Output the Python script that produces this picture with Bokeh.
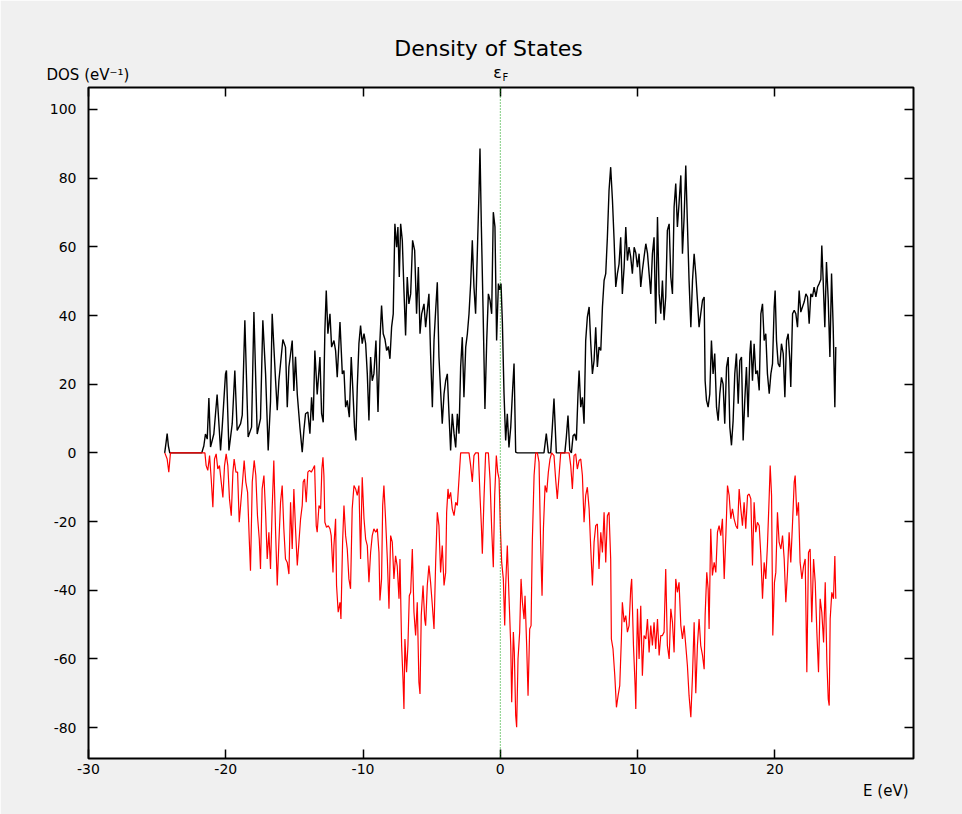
from bokeh.plotting import figure
from bokeh.models import (Range1d, LinearAxis, FixedTicker, Span, Label,
                          CustomLabelingPolicy)
from bokeh.embed import file_html
from bokeh.resources import INLINE

# ---- spin-up DOS (plotted positive) ----
E_up = [
    -24.45, -24.35, -24.27, -24.18, -24.08, -21.75, -21.60, -21.48, -21.35, -21.23,
    -21.11, -20.87, -20.63, -20.38, -20.26, -20.02, -19.95, -19.77, -19.53, -19.34,
    -19.17, -18.92, -18.80, -18.61, -18.37, -18.12, -17.95, -17.71, -17.47, -17.30,
    -17.10, -16.91, -16.74, -16.62, -16.37, -16.25, -16.13, -15.84, -15.65, -15.52,
    -15.40, -15.28, -15.16, -15.04, -14.92, -14.79, -14.60, -14.43, -14.31, -14.19,
    -14.02, -13.87, -13.75, -13.63, -13.51, -13.34, -13.14, -13.02, -12.90, -12.78,
    -12.68, -12.56, -12.41, -12.29, -12.12, -12.00, -11.88, -11.68, -11.51, -11.39,
    -11.27, -11.15, -11.00, -10.86, -10.74, -10.62, -10.52, -10.42, -10.30, -10.18,
    -10.06, -9.93, -9.81, -9.69, -9.57, -9.45, -9.33, -9.21, -9.06, -8.91,
    -8.77, -8.65, -8.53, -8.40, -8.28, -8.16, -8.04, -7.92, -7.80, -7.68,
    -7.55, -7.46, -7.36, -7.26, -7.14, -7.02, -6.90, -6.78, -6.66, -6.53,
    -6.39, -6.24, -6.10, -5.97, -5.85, -5.73, -5.56, -5.44, -5.32, -5.20,
    -5.08, -4.95, -4.83, -4.71, -4.59, -4.47, -4.35, -4.23, -4.10, -3.98,
    -3.86, -3.74, -3.62, -3.50, -3.37, -3.25, -3.13, -3.01, -2.89, -2.77,
    -2.65, -2.52, -2.40, -2.28, -2.16, -2.04, -1.92, -1.80, -1.67, -1.55,
    -1.48, -1.38, -1.26, -1.12, -0.99, -0.87, -0.75, -0.63, -0.51, -0.39,
    -0.27, -0.14, -0.05, 0.05, 0.15, 0.27, 0.39, 0.51, 0.63, 0.76,
    0.88, 1.00, 1.12, 1.24, 3.18, 3.35, 3.50, 3.67, 3.79, 3.91,
    4.08, 4.70, 4.81, 4.93, 5.06, 5.18, 5.30, 5.42, 5.54, 5.66,
    5.74, 5.86, 5.98, 6.10, 6.22, 6.34, 6.47, 6.59, 6.71, 6.83,
    6.95, 7.07, 7.19, 7.32, 7.44, 7.56, 7.68, 7.80, 7.92, 8.04,
    8.17, 8.29, 8.41, 8.53, 8.65, 8.77, 8.89, 9.02, 9.14, 9.26,
    9.38, 9.50, 9.62, 9.75, 9.87, 9.99, 10.11, 10.23, 10.35, 10.47,
    10.60, 10.72, 10.84, 10.96, 11.08, 11.20, 11.32, 11.45, 11.57, 11.69,
    11.81, 11.93, 12.05, 12.17, 12.30, 12.42, 12.54, 12.66, 12.78, 12.90,
    13.02, 13.15, 13.27, 13.39, 13.51, 13.63, 13.75, 13.88, 14.00, 14.12,
    14.24, 14.36, 14.48, 14.60, 14.73, 14.85, 14.92, 15.02, 15.14, 15.26,
    15.38, 15.50, 15.62, 15.75, 15.87, 15.99, 16.11, 16.23, 16.35, 16.48,
    16.60, 16.72, 16.84, 16.96, 17.08, 17.20, 17.33, 17.45, 17.57, 17.69,
    17.81, 17.93, 18.05, 18.18, 18.25, 18.37, 18.49, 18.61, 18.73, 18.86,
    18.98, 19.10, 19.22, 19.34, 19.46, 19.59, 19.71, 19.83, 19.95, 20.02,
    20.12, 20.24, 20.36, 20.48, 20.61, 20.73, 20.85, 20.97, 21.09, 21.16,
    21.29, 21.41, 21.53, 21.65, 21.77, 21.89, 22.01, 22.14, 22.26, 22.38,
    22.50, 22.62, 22.74, 22.86, 22.99, 23.11, 23.23, 23.35, 23.42, 23.52,
    23.64, 23.76, 23.89, 24.01, 24.13, 24.25, 24.37, 24.44,
]
dos_up = [
    0, 3, 5.6, 2, 0, 0, 2, 5.5, 4, 16,
    1.7, 5.5, 17, 0.7, 7.5, 23, 24, 0.7, 8.5, 24,
    6.5, 8.5, 11, 38.6, 4.6, 7.5, 41, 5.5, 10, 38.6,
    23, 0.7, 15, 40.5, 21, 12.4, 21, 33, 30.8, 13.3,
    25, 28.8, 32.7, 18, 28, 17, 7.5, 0.2, 6.5, 11.4,
    11.9, 5.6, 16.2, 9.4, 29.8, 17, 27.9, 11.4, 8.9, 35.7,
    47.3, 34.7, 40.5, 30.8, 32.7, 29.8, 22, 38.1, 23, 24,
    13.3, 15.3, 10.4, 27.9, 18.2, 7.5, 3.6, 19.2, 31.8, 37.1,
    31.8, 34.7, 31.8, 23, 9.4, 27.9, 21, 23, 32.7, 11.9,
    32.7, 42.9, 34.7, 33, 29.8, 31, 27.4, 36.6, 40.5, 66.7,
    59.9, 65.8, 51.2, 66.7, 61.9, 47.3, 34.2, 51.2, 43.4, 46.3,
    61.9, 59, 40.5, 54.1, 34.7, 40.5, 43.4, 36.6, 41.5, 46.3,
    28.9, 13.3, 32.7, 41.5, 49.7, 27.9, 18.2, 8.5, 17.2, 21,
    23, 11.4, 0.7, 11.4, 5.6, 1.6, 11.4, 5.6, 25, 33.7,
    16.2, 30.8, 34.7, 40.5, 49.3, 61.9, 48.3, 40.5, 59, 76.4,
    88.6, 65.8, 42.5, 12.8, 32.7, 46.3, 44.4, 40.5, 70.1, 65.8,
    32.7, 49.3, 47.5, 49.3, 38.1, 17.2, 3.6, 11.4, 1.6, 7.5,
    17.2, 26, 0.2, 0, 0, 5.6, 0, 0, 7.5, 15.8,
    0, 0, 4.6, 10.9, 0.7, 0, 5, 5.5, 3.6, 17.2,
    24, 13.3, 16.2, 8.5, 32.7, 39.5, 42.5, 31.8, 23, 26.9,
    36.6, 25, 30.8, 29.8, 42.5, 50.2, 52.2, 62.8, 76.4, 83.2,
    73.5, 61.9, 48.3, 52.2, 55, 62.8, 46.3, 54.1, 65.8, 56,
    59.9, 57, 52.2, 59.9, 58.2, 54.1, 58, 48.3, 53.1, 57,
    60.9, 58.2, 52.2, 46.3, 58, 62.8, 37.6, 68.7, 46.3, 40.5,
    50.2, 38.6, 45.4, 64.8, 66.7, 51.2, 46.3, 71.6, 78.4, 65.8,
    72.6, 80.8, 58, 68.7, 83.7, 66.7, 50.2, 36.6, 50.2, 58,
    52, 44.4, 36.6, 40.5, 44.4, 45.4, 21, 15.3, 13.3, 17.2,
    32.7, 23, 28.9, 13.3, 9.4, 17.2, 22, 20, 8.5, 25,
    27.9, 7.5, 2.2, 9.4, 23, 28.9, 14.3, 26.9, 27.9, 3.6,
    15.3, 25, 10.4, 28.9, 32.7, 21, 31.8, 23, 24, 18.2,
    40.5, 43.4, 32.7, 34.7, 23, 17.2, 23, 26, 42.5, 47.3,
    32.7, 26, 25, 31.8, 28.9, 16.2, 32.7, 34.7, 27, 19.2,
    40.5, 41.5, 40.5, 36.6, 47.3, 41, 42.5, 44, 46.3, 45.4,
    37.6, 46.3, 45.4, 48.3, 45.4, 48.3, 49.3, 50.5, 60.4, 50.2,
    36.6, 55.6, 44.4, 27.9, 52.2, 36.6, 13.3, 30.8,
]

# ---- spin-down DOS (plotted negative) ----
E_dn = [
    -24.44, -24.27, -24.15, -24.03, -21.52, -21.43, -21.31, -21.18, -21.06, -20.94,
    -20.82, -20.70, -20.58, -20.46, -20.33, -20.21, -20.09, -19.97, -19.85, -19.73,
    -19.60, -19.48, -19.39, -19.26, -19.14, -19.02, -18.90, -18.78, -18.66, -18.54,
    -18.41, -18.29, -18.20, -18.07, -17.93, -17.81, -17.69, -17.56, -17.47, -17.35,
    -17.22, -17.10, -16.98, -16.86, -16.74, -16.62, -16.50, -16.37, -16.25, -16.13,
    -16.01, -15.89, -15.77, -15.65, -15.52, -15.40, -15.28, -15.16, -15.04, -14.92,
    -14.79, -14.67, -14.55, -14.43, -14.36, -14.26, -14.14, -14.02, -13.90, -13.77,
    -13.65, -13.53, -13.41, -13.34, -13.21, -13.09, -13.00, -12.92, -12.85, -12.78,
    -12.66, -12.53, -12.41, -12.32, -12.19, -12.12, -12.00, -11.93, -11.81, -11.68,
    -11.61, -11.49, -11.39, -11.27, -11.15, -11.03, -10.91, -10.79, -10.66, -10.54,
    -10.42, -10.30, -10.18, -10.06, -9.93, -9.81, -9.69, -9.57, -9.45, -9.33,
    -9.21, -9.08, -8.96, -8.84, -8.77, -8.65, -8.57, -8.48, -8.36, -8.23,
    -8.11, -7.99, -7.87, -7.75, -7.63, -7.51, -7.38, -7.31, -7.19, -7.09,
    -7.02, -6.95, -6.83, -6.73, -6.63, -6.53, -6.41, -6.29, -6.17, -6.05,
    -5.93, -5.85, -5.76, -5.63, -5.51, -5.44, -5.32, -5.20, -5.08, -4.95,
    -4.83, -4.71, -4.59, -4.47, -4.35, -4.23, -4.10, -3.98, -3.91, -3.81,
    -3.74, -3.62, -3.50, -3.37, -3.25, -3.13, -3.01, -2.89, -2.28, -2.16,
    -2.04, -1.92, -1.80, -1.60, -1.48, -1.38, -1.31, -1.19, -1.07, -0.87,
    -0.75, -0.63, -0.51, -0.41, -0.29, -0.19, -0.09, 0.00, 0.10, 0.22,
    0.32, 0.39, 0.51, 0.63, 0.76, 0.83, 0.95, 1.02, 1.12, 1.19,
    1.29, 1.41, 1.51, 1.61, 1.73, 1.80, 1.92, 2.02, 2.14, 2.24,
    2.33, 2.46, 2.58, 2.70, 2.82, 2.94, 3.04, 3.14, 3.26, 3.38,
    3.50, 3.62, 3.74, 3.91, 4.03, 4.15, 4.28, 4.40, 5.01, 5.13,
    5.25, 5.37, 5.49, 5.61, 5.74, 5.86, 5.98, 6.10, 6.22, 6.34,
    6.47, 6.59, 6.71, 6.83, 6.95, 7.07, 7.19, 7.32, 7.44, 7.56,
    7.68, 7.80, 7.92, 8.04, 8.09, 8.21, 8.34, 8.46, 8.58, 8.70,
    8.82, 8.89, 9.02, 9.14, 9.26, 9.38, 9.50, 9.57, 9.70, 9.82,
    9.87, 9.99, 10.11, 10.23, 10.35, 10.47, 10.60, 10.72, 10.84, 10.96,
    11.08, 11.20, 11.32, 11.45, 11.57, 11.69, 11.81, 11.93, 12.05, 12.17,
    12.30, 12.42, 12.54, 12.66, 12.78, 12.90, 13.02, 13.15, 13.27, 13.39,
    13.51, 13.63, 13.75, 13.88, 14.00, 14.12, 14.24, 14.36, 14.48, 14.60,
    14.73, 14.85, 14.92, 15.04, 15.14, 15.21, 15.33, 15.45, 15.58, 15.70,
    15.82, 15.94, 16.06, 16.18, 16.31, 16.43, 16.55, 16.67, 16.79, 16.91,
    17.03, 17.16, 17.28, 17.40, 17.52, 17.64, 17.76, 17.88, 18.01, 18.13,
    18.25, 18.37, 18.49, 18.61, 18.73, 18.86, 18.98, 19.10, 19.22, 19.34,
    19.46, 19.59, 19.66, 19.76, 19.85, 19.97, 20.07, 20.19, 20.31, 20.44,
    20.56, 20.68, 20.80, 20.92, 21.04, 21.16, 21.29, 21.41, 21.48, 21.60,
    21.72, 21.84, 21.97, 22.09, 22.21, 22.33, 22.45, 22.57, 22.69, 22.82,
    22.94, 23.06, 23.18, 23.30, 23.42, 23.55, 23.67, 23.79, 23.89, 23.96,
    24.03, 24.15, 24.27, 24.37, 24.44,
]
dos_dn = [
    0, -1.8, -5.6, 0, 0, -3.7, -5.1, -0.8, -7.6, -15.8,
    -1.8, -0.3, -4.7, -3.7, -8.5, -13, -3.7, -0.3, -3.7, -13.4,
    -18.3, -5.6, -1.8, -5.6, -5.6, -20.2, -14.4, -8.5, -2.2, -8.5,
    -11.5, -25.1, -34.3, -8.5, -2.2, -6.6, -18.3, -25.1, -33.8, -10.5,
    -6.6, -17.3, -30.9, -23.1, -33.8, -16.3, -2.2, -23.1, -38.6, -26,
    -14.4, -9.5, -22.1, -30.9, -31.9, -35.3, -14.4, -28, -10.5, -22.1,
    -32.8, -26, -19.2, -15.3, -8.5, -7.6, -14.4, -5.6, -5.1, -5.6,
    -4.7, -3.7, -21.2, -23.1, -15.3, -16.3, -4.7, -1.3, -6.6, -20.2,
    -21.7, -21.2, -22.1, -24.1, -34.8, -27, -19.2, -38.6, -46.4, -43.5,
    -48.4, -26, -15.3, -24.1, -28, -36.7, -39.6, -16.3, -9.5, -10.5,
    -12.4, -9.5, -30.9, -7.1, -19.2, -25.1, -27, -37.7, -29, -24.1,
    -22.1, -23.1, -22.1, -29, -43, -36.7, -15.3, -9.5, -19.2, -30.9,
    -45.4, -24.1, -26, -36.7, -30, -33, -42.5, -30.9, -56.1, -65.8,
    -74.6, -54.2, -63.9, -56, -41.6, -40.6, -28, -46.4, -53.2, -43.5,
    -66.8, -70.2, -47.4, -38.6, -48.4, -50.3, -38.6, -32.8, -37.7, -44.5,
    -51.3, -31.9, -17.3, -21.2, -34.8, -27, -38.6, -34.8, -17.3, -10.5,
    -13.4, -11.5, -16.3, -18.3, -14.4, -15.3, -7.6, 0, 0, -3.7,
    -8.5, -0.8, 0, 0, -12.4, -21.2, -29.4, -13.4, 0, 0,
    -7.6, -22.1, -33.3, -12.4, -0.8, -5.6, -7.6, -21.2, -31.9, -36.7,
    -50.3, -38.6, -27, -41.6, -56.1, -72.6, -52.2, -58, -76.5, -79.9,
    -60, -52.2, -36.7, -43.5, -48.4, -41.6, -56.1, -70.7, -51.3, -50.3,
    -26, -6.6, 0, 0, -2.7, -27, -41.6, -22.1, -9.5, -11.5,
    -5.6, -1.8, 0, -0.8, -7.6, -13.4, -6.6, 0, 0, -3.7,
    -10.5, -0.8, -0.3, -4.7, -2.2, -1.8, -6.6, -20.2, -12.4, -10,
    -16.3, -28, -38.6, -26, -21.2, -20.7, -33.8, -23.1, -29, -17.3,
    -31.9, -18.3, -17.3, -30.9, -54.2, -57.1, -64.9, -74.1, -70.7, -67.8,
    -54.2, -43.5, -49.3, -47.4, -52.2, -50.3, -39.6, -36.7, -56.1, -67.8,
    -74.6, -45.4, -60, -44.5, -64.9, -53.2, -54.2, -48.4, -58.1, -50.3,
    -56.1, -49.3, -57.1, -48.4, -59, -53.2, -53.2, -52.2, -33.8, -56.1,
    -60, -45.4, -49.3, -58.1, -36.7, -40.6, -37.7, -50.3, -54.2, -50.3,
    -56.1, -62, -70.7, -77, -64.9, -49.3, -70, -56.1, -48.4, -56.1,
    -59, -63, -47.4, -34.8, -39.6, -51.3, -22.1, -35.7, -31.9, -34.8,
    -23.1, -21.2, -24.1, -19.2, -36.7, -24.1, -9.5, -12.4, -19.2, -16.3,
    -19.2, -21.2, -22.1, -10.5, -16.3, -21.2, -14.4, -22.1, -12.4, -12,
    -13.4, -32.8, -14.4, -23.1, -20.2, -21.2, -29.9, -42.5, -31.9, -36.7,
    -27, -12.4, -3.7, -12.4, -53.2, -37.7, -34.8, -17.3, -26, -28,
    -24.1, -30.9, -43.5, -34.8, -23.1, -31.9, -20.2, -8.5, -6.6, -18.3,
    -14.4, -31.9, -36.7, -33, -30.9, -63.9, -29, -28, -49.3, -30.9,
    -37.7, -52.2, -63.9, -42.5, -46.4, -55.2, -37.7, -61, -71.7, -73.6,
    -48.4, -40.6, -42.5, -30, -42.5,
]

x_ticks = [-30, -20, -10, 0, 10, 20]
y_ticks = [-80, -60, -40, -20, 0, 20, 40, 60, 80, 100]

FONT = "DejaVu Sans"
BG = "#f0f0f0"

n_up = min(len(E_up), len(dos_up))
n_dn = min(len(E_dn), len(dos_dn))

p = figure(width=962, height=814, output_backend="svg", toolbar_location=None,
           x_range=Range1d(-30, 30.1), y_range=Range1d(-89, 106.4),
           min_border_left=88, min_border_right=49,
           min_border_top=87, min_border_bottom=56)
p.background_fill_color = "white"
p.border_fill_color = BG
p.outline_line_color = "black"
p.outline_line_width = 2
p.grid.visible = False

# mirrored tick marks on the right and top edges, without labels
hide_labels = CustomLabelingPolicy(code="""
    for (const i of Array.from(indices)) {
        if (indices.unset != null) indices.unset(i); else indices.set(i, false);
    }
    return indices
""")
p.add_layout(LinearAxis(major_label_policy=hide_labels), "right")
p.add_layout(LinearAxis(major_label_policy=hide_labels), "above")

plain_minus = {t: str(t) for t in x_ticks + y_ticks}
for ax in p.xaxis:
    ax.ticker = FixedTicker(ticks=x_ticks)
for ax in p.yaxis:
    ax.ticker = FixedTicker(ticks=y_ticks)
for ax in p.axis:
    ax.axis_line_color = None
    ax.major_tick_in = 9
    ax.major_tick_out = 0
    ax.major_tick_line_color = "black"
    ax.major_tick_line_width = 1.5
    ax.minor_tick_line_color = None
    ax.major_label_text_font = FONT
    ax.major_label_text_font_size = "14px"
    ax.major_label_text_color = "black"
    ax.major_label_overrides = plain_minus
p.xaxis[0].major_label_standoff = 10
p.yaxis[0].major_label_standoff = 12
for ax in (p.right[0], p.above[0]):
    ax.major_label_standoff = 0

# Fermi level
p.add_layout(Span(location=0, dimension="height", line_color="#009a00",
                  line_width=1, line_dash="1 2"))

p.line(E_up[:n_up], dos_up[:n_up], line_color="black", line_width=1.4)
p.line(E_dn[:n_dn], dos_dn[:n_dn], line_color="red", line_width=1.2)

def canvas_label(text, x, y, size, align="left", side="above"):
    p.add_layout(Label(x=x, y=y, x_units="canvas", y_units="canvas", text=text,
                       text_font=FONT, text_font_size=size, text_color="black",
                       text_align=align, text_baseline="middle"), side)

canvas_label("Density of States", 488, 48, "22px", "center")
canvas_label("DOS (eV\u207b\u00b9)", 46, 74, "15px")
canvas_label("\u03b5", 497, 72, "16px", "center")
canvas_label("F", 502, 77, "10px")
canvas_label("E (eV)", 908, 790, "15px", "right", "below")

open("out.html", "w").write(file_html(p, INLINE))
